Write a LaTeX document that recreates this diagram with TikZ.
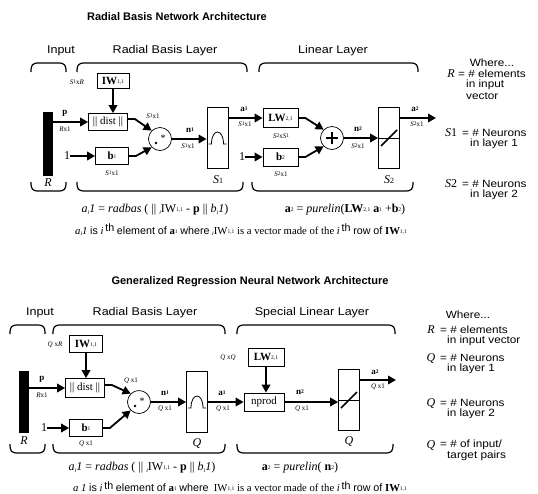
\documentclass[tikz,border=0pt]{standalone}
\usepackage{fontspec}
\setmainfont{Liberation Serif}
\setsansfont{Liberation Sans}
\newfontfamily\widesans[FakeStretch=1.12]{Liberation Sans}
\usetikzlibrary{arrows.meta}
\newcommand{\upidx}[1]{{\fontsize{5.5}{5.5}\selectfont\raisebox{.45ex}{#1}}}
\newcommand{\lowidx}[1]{{\fontsize{6}{6}\selectfont\raisebox{-.6ex}{\itshape #1}}}
\newcommand{\ith}{\textit{i}\,\raisebox{.45ex}{\sffamily th}}
\newcommand{\topbrace}[3]{\draw[brace] (#1,#3+9) .. controls (#1,#3+2) and (#1+1,#3) .. (#1+8,#3) -- (#2-8,#3) .. controls (#2-1,#3) and (#2,#3+2) .. (#2,#3+9);}
\newcommand{\botbrace}[3]{\draw[brace] (#1,#3-9) .. controls (#1,#3-2) and (#1+1,#3) .. (#1+8,#3) -- (#2-8,#3) .. controls (#2-1,#3) and (#2,#3-2) .. (#2,#3-9);}
\begin{document}
\begin{tikzpicture}[x=1pt,y=-1pt,
  block/.style={draw,fill=white,line width=.7pt,inner sep=0pt,font=\fontsize{11}{11}\selectfont},
  layer/.style={draw,fill=white,line width=.7pt,minimum width=21pt,minimum height=61pt},
  junction/.style={draw,circle,fill=white,line width=.7pt,minimum size=23pt,inner sep=0pt},
  feed/.style={line width=1.8pt,-{Triangle[length=8pt,width=8.5pt]}},
  dimtext/.style={inner sep=0pt,font=\fontsize{7}{7}\selectfont},
  sig/.style={inner sep=0pt,font=\fontsize{9}{9}\selectfont\bfseries},
  archtitle/.style={inner sep=0pt,font=\sffamily\bfseries\fontsize{11}{11}\selectfont},
  layername/.style={inner sep=0pt,font=\widesans\fontsize{11.2}{11.2}\selectfont},
  legend/.style={inner sep=0pt,anchor=west,font=\widesans\fontsize{10.5}{10.5}\selectfont},
  sym/.style={inner sep=0pt,font=\itshape\fontsize{12}{12}\selectfont},
  formula/.style={inner sep=0pt,font=\fontsize{12}{12}\selectfont},
  remark/.style={inner sep=0pt,font=\fontsize{10.7}{10.7}\selectfont},
  brace/.style={line width=1.2pt}]
\useasboundingbox (0,0) rectangle (538,493);

% radial basis network
\node[archtitle] (t1) at (177,17) {Radial Basis Network Architecture};
\node[layername] (h1) at (61,51) {Input};
\node[layername] (h2) at (165,51) {Radial Basis Layer};
\node[layername] (h3) at (333,51) {Linear Layer};
\topbrace{31}{66}{63}
\topbrace{77}{247}{63}
\topbrace{259}{418}{63}

\node[fill=black,minimum width=10pt,minimum height=64pt,inner sep=0pt] (in1) at (48,144) {};
\node[sym] (r1) at (48,183) {R};
\node[block,minimum width=32pt,minimum height=15pt] (iw1) at (113,81) {\textbf{IW}\upidx{1,1}};
\node[dimtext] (iwd1) at (77,82) {\textit{S}\upidx{1}x\textit{R}};
\node[block,minimum width=39pt,minimum height=17pt] (dist1) at (108,122) {|| dist ||};
\node[sig] (p1) at (65,113) {p};
\node[dimtext] (pd1) at (65,129) {\textit{R}x1};
\node[formula] (one1) at (67,156) {1};
\node[block,minimum width=33pt,minimum height=17pt] (b1) at (112,156) {\textbf{b}\upidx{1}};
\node[dimtext] (bd1) at (112,173) {\textit{S}\upidx{1}x1};
\node[junction] (mul1) at (160,139) {};
\node[dimtext] (dd1) at (153,116) {\textit{S}\upidx{1}x1};
\node[layer] (s1) at (217.5,138) {};
\node[sig] (n1) at (190,130) {n\upidx{1}};
\node[dimtext] (nd1) at (188,146) {\textit{S}\upidx{1}x1};
\node[sym] (sl1) at (218,180) {S{\upshape\fontsize{8}{8}\selectfont 1}};

\draw[feed] (iw1) -- (iw1 |- dist1.north);
\draw[feed] (in1.east |- dist1) -- (dist1);
\draw[feed] (one1) -- (b1);
\draw[feed] ([yshift=3pt]dist1.east) -- ++(7,0) -- (mul1.135);
\draw[feed] (b1.east) -- ++(7,0) -- (mul1.225);
\draw[feed] (mul1) -- (s1.west |- mul1);
\fill ([xshift=-4pt,yshift=-4pt]mul1.center) circle (1.3pt);
\node[font=\fontsize{10}{10}\selectfont,inner sep=0pt] (star1) at ([xshift=3pt,yshift=1pt]mul1.center) {*};
\draw[line width=.8pt,shift={(s1.center)}] (-9,6) -- (-6,6) .. controls (-6,-10) and (6,-10) .. (6,6) -- (9,6);

\node[block,minimum width=35pt,minimum height=19pt] (lw1) at (280.5,118) {\textbf{LW}\upidx{2,1}};
\node[sig] (a1) at (244,109) {a\upidx{1}};
\node[dimtext] (ad1) at (245,124) {\textit{S}\upidx{1}x1};
\node[dimtext] (lwd1) at (281,136) {\textit{S}\upidx{2}x\textit{S}\upidx{1}};
\node[formula] (one2) at (242,157) {1};
\node[block,minimum width=35pt,minimum height=18pt] (b2) at (280.5,157) {\textbf{b}\upidx{2}};
\node[dimtext] (bd2) at (281,174) {\textit{S}\upidx{2}x1};
\node[junction] (add1) at (332,138) {};
\node[layer] (s2) at (389,138) {};
\node[sig] (n2) at (358,129) {n\upidx{2}};
\node[dimtext] (nd2) at (358,146) {\textit{S}\upidx{2}x1};
\coordinate (out1) at (436,118);
\node[sig] (a2) at (415,109) {a\upidx{2}};
\node[dimtext] (ad2) at (417,124) {\textit{S}\upidx{2}x1};
\node[sym] (sl2) at (389,180) {S{\upshape\fontsize{8}{8}\selectfont 2}};

\draw[feed] (s1.east |- lw1) -- (lw1);
\draw[feed] (one2) -- (b2);
\draw[feed] (lw1.east) -- ++(7,0) -- (add1.135);
\draw[feed] (b2.east) -- ++(7,0) -- (add1.225);
\draw[feed] (add1) -- (s2.west |- add1);
\draw[feed] (s2.east |- out1) -- (out1);
\draw[line width=1.4pt] ([xshift=-6pt]add1.center) -- ([xshift=6pt]add1.center) ([yshift=-6pt]add1.center) -- ([yshift=6pt]add1.center);
\draw[line width=.6pt] ([xshift=-10pt]s2.center) -- ([xshift=10pt]s2.center);
\draw[line width=1.6pt] ([xshift=-8pt,yshift=-8pt]s2.center) -- ([xshift=8pt,yshift=8pt]s2.center);

\botbrace{31}{66}{191}
\botbrace{77}{243}{191}
\botbrace{252}{413}{191}

\node[formula] (f1) at (155,210) {\textit{a}\lowidx{i}\textit{1} = \textit{radbas} ( || \lowidx{i}IW\upidx{1,1} - \textbf{p} || \textit{b}\lowidx{i}\textit{1})};
\node[formula] (f2) at (345,210) {\textbf{a}\upidx{2} = \textit{purelin}(\textbf{LW}\upidx{2,1} \textbf{a}\upidx{1} +\textbf{b}\upidx{2})};
\node[remark] (f3) at (241,230) {\textit{a}\lowidx{i}\textit{1} {\sffamily is} \ith{} {\sffamily element of} \textbf{a}\upidx{1} {\sffamily where} \lowidx{i}IW\upidx{1,1} is a vector made of the \ith{} {\sffamily row of} \textbf{IW}\upidx{1,1}};

\node[legend,anchor=center] (w1) at (492,63) {Where...};
\node[sym] (lr1) at (451,74) {R};
\node[legend] (le1) at (458,74) {= \# elements};
\node[legend] (le2) at (466,85) {in input};
\node[legend] (le3) at (466,96) {vector};
\node[sym] (ls1) at (451,133) {S{\upshape 1}};
\node[legend] (le4) at (462,133) {= \# Neurons};
\node[legend] (le5) at (470,144) {in layer 1};
\node[sym] (ls2) at (451,184) {S{\upshape 2}};
\node[legend] (le6) at (462,184) {= \# Neurons};
\node[legend] (le7) at (470,195) {in layer 2};

% generalized regression network
\node[archtitle] (t2) at (250,282) {Generalized Regression Neural Network Architecture};
\node[layername] (h4) at (40,313) {Input};
\node[layername] (h5) at (145,313) {Radial Basis Layer};
\node[layername] (h6) at (312,313) {Special Linear Layer};
\topbrace{10}{45}{325}
\topbrace{53}{225}{325}
\topbrace{237}{395}{325}

\node[fill=black,minimum width=10pt,minimum height=62pt,inner sep=0pt] (in2) at (24,402) {};
\node[sym] (r2) at (24,441) {R};
\node[block,minimum width=33pt,minimum height=17pt] (iw2) at (86,344) {\textbf{IW}\upidx{1,1}};
\node[dimtext] (iwd2) at (55,345) {\textit{Q} x\textit{R}};
\node[block,minimum width=39pt,minimum height=19pt] (dist2) at (85,388) {|| dist ||};
\node[sig] (p2) at (42,379) {p};
\node[dimtext] (pd2) at (42,395) {\textit{R}x1};
\node[formula] (one3) at (44,428) {1};
\node[block,minimum width=33pt,minimum height=17pt] (b3) at (86,428) {\textbf{b}\upidx{1}};
\node[dimtext] (bd3) at (86,444) {\textit{Q} x1};
\node[junction] (mul2) at (139,402) {};
\node[dimtext] (dd2) at (131,381) {\textit{Q} x1};
\node[layer] (q1) at (197,402) {};
\node[sig] (n3) at (165,393) {n\upidx{1}};
\node[dimtext] (nd3) at (165,409) {\textit{Q} x1};
\node[sym] (ql1) at (197,443) {Q};

\draw[feed] (iw2) -- (iw2 |- dist2.north);
\draw[feed] (in2.east |- dist2) -- (dist2);
\draw[feed] (one3) -- (b3);
\draw[feed] ([yshift=3pt]dist2.east) -- ++(7,0) -- (mul2.135);
\draw[feed] (b3.east) -- ++(7,0) -- (mul2.225);
\draw[feed] (mul2) -- (q1.west |- mul2);
\fill ([xshift=-4pt,yshift=-4pt]mul2.center) circle (1.3pt);
\node[font=\fontsize{10}{10}\selectfont,inner sep=0pt] (star2) at ([xshift=3pt,yshift=1pt]mul2.center) {*};
\draw[line width=.8pt,shift={(q1.center)}] (-9,6) -- (-6,6) .. controls (-6,-10) and (6,-10) .. (6,6) -- (9,6);

\node[block,minimum width=36pt,minimum height=18pt] (lw2) at (266,357) {\textbf{LW}\upidx{2,1}};
\node[dimtext] (lwd2) at (228,358) {\textit{Q} x\textit{Q}};
\node[block,minimum width=40pt,minimum height=18pt] (np) at (264,402) {nprod};
\node[sig] (a3) at (222,393) {a\upidx{1}};
\node[dimtext] (ad3) at (223,409) {\textit{Q} x1};
\node[layer] (q2) at (349,400) {};
\node[sig] (n4) at (300,392) {n\upidx{2}};
\node[dimtext] (nd4) at (302,409) {\textit{Q} x1};
\coordinate (out2) at (396,380);
\node[sig] (a4) at (375,372) {a\upidx{2}};
\node[dimtext] (ad4) at (378,387) {\textit{Q} x1};
\node[sym] (ql2) at (349,441) {Q};

\draw[feed] (q1.east |- np) -- (np);
\draw[feed] (lw2) -- (lw2 |- np.north);
\draw[feed] (np) -- (q2.west |- np);
\draw[feed] (q2.east |- out2) -- (out2);
\draw[line width=.6pt] ([xshift=-10pt]q2.center) -- ([xshift=10pt]q2.center);
\draw[line width=1.6pt] ([xshift=-8pt,yshift=-8pt]q2.center) -- ([xshift=8pt,yshift=8pt]q2.center);

\botbrace{10}{45}{453}
\botbrace{53}{225}{453}
\botbrace{237}{393}{453}

\node[formula] (f4) at (142,468) {\textit{a}\lowidx{i}\textit{1} = \textit{radbas} ( || \lowidx{i}IW\upidx{1,1} - \textbf{p} || \textit{b}\lowidx{i}\textit{1})};
\node[formula] (f5) at (300,468) {\textbf{a}\upidx{2} = \textit{purelin}( \textbf{n}\upidx{2})};
\node[remark] (f6) at (240,487) {\textit{a 1} {\sffamily is} \ith{} {\sffamily element of} \textbf{a}\upidx{1} {\sffamily where} \ IW\upidx{1,1} is a vector made of the \ith{} {\sffamily row of} \textbf{IW}\upidx{1,1}};

\node[legend,anchor=center] (w2) at (468,315) {Where...};
\node[sym] (lr2) at (431,330) {R};
\node[legend] (le8) at (440,330) {= \# elements};
\node[legend] (le9) at (447,341) {in input vector};
\node[sym] (lq1) at (431,358) {Q};
\node[legend] (le10) at (440,358) {= \# Neurons};
\node[legend] (le11) at (447,369) {in layer 1};
\node[sym] (lq2) at (431,403) {Q};
\node[legend] (le12) at (440,403) {= \# Neurons};
\node[legend] (le13) at (447,414) {in layer 2};
\node[sym] (lq3) at (431,445) {Q};
\node[legend] (le14) at (440,445) {= \# of input/};
\node[legend] (le15) at (447,456) {target pairs};
\end{tikzpicture}
\end{document}
